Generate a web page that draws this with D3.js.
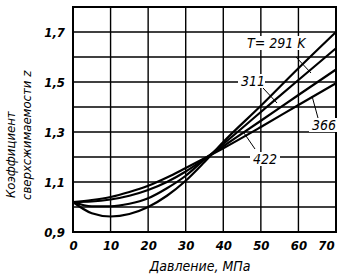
<!DOCTYPE html>
<html>
<head>
<meta charset="utf-8">
<script src="https://cdn.jsdelivr.net/npm/d3@7"></script>
<style>
body { margin: 0; background: white; }
svg text { font-family: "Liberation Sans Narrow", "DejaVu Sans Condensed", sans-serif; font-style: italic; fill: black; }
</style>
</head>
<body>
<div id="chart"></div>
<script>
// pressure, MPa
var pressure = [0, 5, 10, 15, 20, 25, 30, 35, 40, 50, 60, 70];
// z for each temperature
var z291 = [1.02, 0.975, 0.962, 0.972, 1.0, 1.045, 1.105, 1.18, 1.26, 1.405, 1.555, 1.70];
var z311 = [1.02, 1.003, 1.003, 1.013, 1.035, 1.075, 1.125, 1.19, 1.252, 1.38, 1.508, 1.635];
var z366 = [1.02, 1.022, 1.03, 1.045, 1.068, 1.1, 1.142, 1.192, 1.243, 1.345, 1.448, 1.55];
var z422 = [1.02, 1.028, 1.04, 1.06, 1.085, 1.118, 1.156, 1.195, 1.235, 1.32, 1.408, 1.495];
var series = [z291, z311, z366, z422];
var xTicks = [0, 10, 20, 30, 40, 50, 60, 70];
var yTicks = [0.9, 1.1, 1.3, 1.5, 1.7];
var yGrid = [1.0, 1.2, 1.4, 1.6];

var margin = {top: 7, right: 6, bottom: 45, left: 73},
    width = 342 - margin.left - margin.right,
    height = 277 - margin.top - margin.bottom;

var svg = d3.select("#chart").append("svg")
    .attr("width", 342).attr("height", 277);
var g = svg.append("g")
    .attr("transform", "translate(" + margin.left + "," + margin.top + ")");

var x = d3.scaleLinear().domain([0, 70]).range([0, width]);
var y = d3.scaleLinear().domain([0.9, 1.8]).range([height, 0]);

// grid
g.selectAll(".vg").data(xTicks).enter().append("line")
    .attr("x1", function(d) { return x(d); }).attr("x2", function(d) { return x(d); })
    .attr("y1", 0).attr("y2", height)
    .attr("stroke", "black").attr("stroke-width", 1.4);
g.selectAll(".hg").data(yTicks.concat(yGrid)).enter().append("line")
    .attr("x1", 0).attr("x2", width)
    .attr("y1", function(d) { return y(d); }).attr("y2", function(d) { return y(d); })
    .attr("stroke", "black").attr("stroke-width", 1.4);
g.append("rect").attr("width", width).attr("height", height)
    .attr("fill", "none").attr("stroke", "black").attr("stroke-width", 2);

// curves
var line = d3.line()
    .x(function(d, i) { return x(pressure[i]); })
    .y(function(d) { return y(d); })
    .curve(d3.curveMonotoneX);
g.selectAll(".curve").data(series).enter().append("path")
    .attr("d", line)
    .attr("fill", "none").attr("stroke", "black").attr("stroke-width", 2.2);

// axes labels
var comma = function(d) { return d3.format(".1f")(d).replace(".", ","); };
var yAxis = g.append("g").call(d3.axisLeft(y).tickValues(yTicks).tickSize(0).tickPadding(8).tickFormat(comma));
var xAxis = g.append("g").attr("transform", "translate(0," + height + ")")
    .call(d3.axisBottom(x).tickValues(xTicks).tickSize(0).tickPadding(9));
[yAxis, xAxis].forEach(function(a) {
    a.select(".domain").remove();
    a.selectAll("text").style("font-size", "13px").style("font-weight", "bold")
        .style("font-style", "italic")
        .style("font-family", '"Liberation Sans Narrow", "DejaVu Sans Condensed", sans-serif');
});
// last x label sits inside the frame, as in the original
xAxis.selectAll(".tick").filter(function(d) { return d === 70; }).select("text").attr("dx", -10);

svg.append("text").attr("x", 200).attr("y", 271).attr("text-anchor", "middle")
    .style("font-size", "14px").text("Давление, МПа");
svg.append("text").attr("transform", "translate(15,198) rotate(-90)")
    .style("font-size", "13px").text("Коэффициент");
svg.append("text").attr("transform", "translate(31,200) rotate(-90)")
    .style("font-size", "13px").text("сверхсжимаемости z");

// curve labels with leaders
var labels = [
    {t: "T= 291 K", x: 247, y: 48, w: 56, lx1: 296, ly1: 57, lx2: 311, ly2: 73},
    {t: "311", x: 241, y: 86, w: 21, lx1: 263, ly1: 88, lx2: 277, ly2: 103},
    {t: "366", x: 312, y: 130, w: 22, lx1: 312, ly1: 96, lx2: 318, ly2: 118},
    {t: "422", x: 253, y: 164, w: 24, lx1: 244, ly1: 133, lx2: 255, ly2: 149}
];
labels.forEach(function(l) {
    svg.append("rect").attr("x", l.x - 3).attr("y", l.y - 12).attr("width", l.w + 6).attr("height", 14)
        .attr("fill", "white");
    svg.append("text").attr("x", l.x).attr("y", l.y).style("font-size", "14px").text(l.t);
    svg.append("line").attr("x1", l.lx1).attr("y1", l.ly1).attr("x2", l.lx2).attr("y2", l.ly2)
        .attr("stroke", "black").attr("stroke-width", 1);
});
</script>
</body>
</html>
